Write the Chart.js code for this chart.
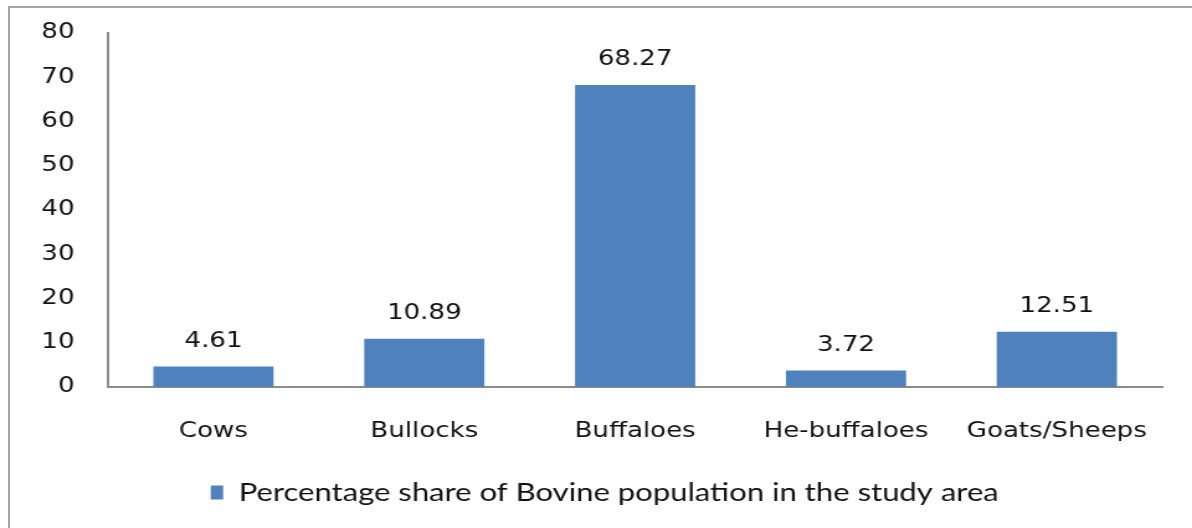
<!DOCTYPE html>
<html>
<head>
<meta charset="utf-8">
<script src="https://cdn.jsdelivr.net/npm/chart.js@4.4.1/dist/chart.umd.min.js"></script>
<style>
  html, body { margin: 0; padding: 0; background: #fff; overflow: hidden; width: 1192px; height: 528px; }
  #frame { position: absolute; left: 8px; top: 6px; width: 1300px; height: 700px; border: 2px solid #a6a6a6; box-sizing: border-box; }
  #wrap { position: absolute; left: 0; top: 0; width: 960px; height: 528px; transform-origin: 0 0; transform: scaleX(1.2417); }
  canvas { display: block; }
</style>
</head>
<body>
<div id="frame"></div>
<div id="wrap"><canvas id="c" width="960" height="528"></canvas></div>
<script>
const categories = ["Cows", "Bullocks", "Buffaloes", "He-buffaloes", "Goats/Sheeps"];
const shareValues = [4.61, 10.89, 68.27, 3.72, 12.51];
const seriesLabel = "Percentage share of Bovine population in the study area";
const yTicks = [0, 10, 20, 30, 40, 50, 60, 70, 80];

const textColor = '#111111';
const axisColor = '#8c8c8c';
const barColor = '#4F81BD';

const valueLabels = {
  id: 'valueLabels',
  afterDatasetsDraw(chart) {
    const ctx = chart.ctx;
    const meta = chart.getDatasetMeta(0);
    ctx.save();
    ctx.font = '21px "DejaVu Sans"';
    ctx.fillStyle = textColor;
    ctx.textAlign = 'center';
    ctx.textBaseline = 'middle';
    meta.data.forEach((bar, i) => {
      ctx.fillText(shareValues[i].toFixed(2), bar.x, bar.y - 25);
    });
    ctx.restore();
  }
};

const legendShift = {
  id: 'legendShift',
  beforeDraw(chart) {
    const lg = chart.legend;
    if (lg && !lg._shifted) {
      lg.left += 19; lg.right += 19;
      lg._shifted = true;
    }
  }
};

new Chart(document.getElementById('c'), {
  type: 'bar',
  data: {
    labels: categories,
    datasets: [{
      label: seriesLabel,
      data: shareValues,
      backgroundColor: barColor,
      borderWidth: 0,
      categoryPercentage: 1.0,
      barPercentage: 0.57
    }]
  },
  options: {
    responsive: false,
    animation: false,
    devicePixelRatio: 1,
    layout: { padding: { top: 33, right: 24, bottom: 13, left: 0 } },
    scales: {
      x: {
        grid: { display: false, drawTicks: false },
        border: { display: true, color: axisColor, width: 2 },
        ticks: { color: textColor, font: { family: 'DejaVu Sans', size: 21 }, padding: 32, maxRotation: 0 },
        afterFit(scale) { scale.height = 83; }
      },
      y: {
        min: 0, max: 80,
        afterBuildTicks(scale) { scale.ticks = yTicks.map(v => ({ value: v })); },
        grid: { display: false, drawTicks: false },
        border: { display: true, color: axisColor, width: 2 },
        ticks: { color: textColor, font: { family: 'DejaVu Sans', size: 21 }, padding: 27 },
        afterFit(scale) { scale.width = 87; scale.paddingTop = 12; scale.paddingBottom = 12; }
      }
    },
    plugins: {
      legend: {
        position: 'bottom',
        labels: {
          color: textColor,
          font: { family: 'Lato', size: 25 },
          boxWidth: 10,
          boxHeight: 14,
          padding: 10
        }
      },
      tooltip: { enabled: false }
    }
  },
  plugins: [valueLabels, legendShift]
});
</script>
</body>
</html>
